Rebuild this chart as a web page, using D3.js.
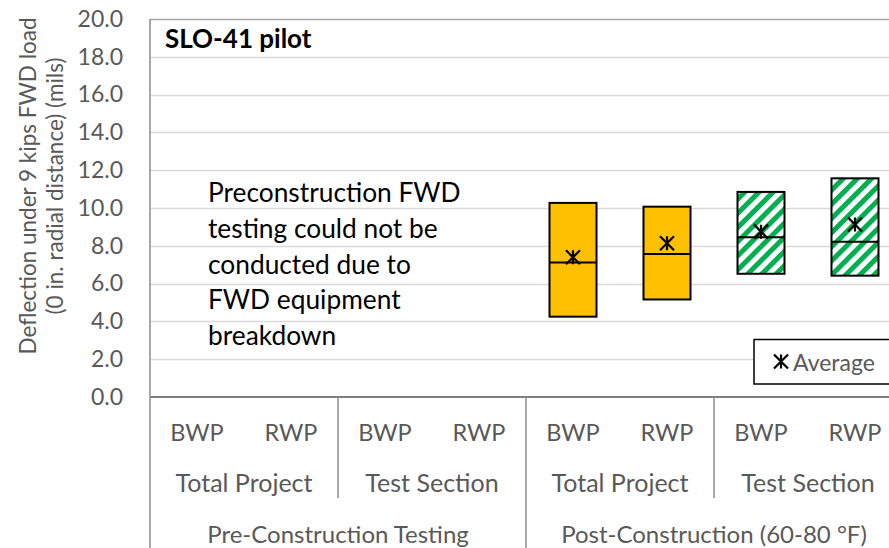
<!DOCTYPE html>
<html>
<head>
<meta charset="utf-8">
<script src="https://cdn.jsdelivr.net/npm/d3@7"></script>
<style>
  html, body { margin: 0; padding: 0; background: #fff; }
  svg { display: block; font-family: Lato, "Open Sans", sans-serif; }
</style>
</head>
<body>
<svg id="chart" width="889" height="548"></svg>
<script>
// ---------------- data ----------------
const subCategories = ["BWP", "RWP", "BWP", "RWP", "BWP", "RWP", "BWP", "RWP"];
const groupLabels = ["Total Project", "Test Section", "Total Project", "Test Section"];
const phaseLabels = ["Pre-Construction Testing", "Post-Construction (60-80 °F)"];
const boxMax    = [null, null, null, null, 10.27, 10.07, 10.85, 11.57];
const boxMedian = [null, null, null, null, 7.12, 7.57, 8.45, 8.22];
const boxMin    = [null, null, null, null, 4.25, 5.16, 6.52, 6.42];
const boxAverage = [null, null, null, null, 7.39, 8.13, 8.75, 9.13];
const yTicks = [0, 2, 4, 6, 8, 10, 12, 14, 16, 18, 20];
const chartTitle = "SLO-41 pilot";
const noteLines = ["Preconstruction FWD", "testing could not be", "conducted due to", "FWD equipment", "breakdown"];
const yTitleLines = ["Deflection under 9 kips FWD load", "(0 in. radial distance)  (mils)"];
const legendLabel = "Average";

// ---------------- layout ----------------
const svg = d3.select("#chart");
const plot = { left: 150, right: 902, top: 19, bottom: 397 };
const textGray = "#595959";
const axisGray = "#8c8c8c";

const x = d3.scaleBand()
  .domain(d3.range(subCategories.length))
  .range([plot.left, plot.right])
  .paddingInner(0.5)
  .paddingOuter(0.25);
const y = d3.scaleLinear().domain([0, 20]).range([plot.bottom, plot.top]);

// pattern
const defs = svg.append("defs");
const pat = defs.append("pattern")
  .attr("id", "hatch")
  .attr("patternUnits", "userSpaceOnUse")
  .attr("width", 10).attr("height", 10)
  .attr("patternTransform", "rotate(45)");
pat.append("rect").attr("width", 10).attr("height", 10).attr("fill", "#fff");
pat.append("rect").attr("width", 5).attr("height", 10).attr("fill", "#00B050");

// gridlines
const grid = svg.append("g");
grid.selectAll("line").data(yTicks.filter(d => d > 0)).join("line")
  .attr("x1", plot.left).attr("x2", plot.right)
  .attr("y1", d => Math.round(y(d)) + 0.5).attr("y2", d => Math.round(y(d)) + 0.5)
  .attr("stroke", d => d === 20 ? "#a6a6a6" : "#d9d9d9")
  .attr("stroke-width", 1.5);

// y axis
const yAxis = d3.axisLeft(y).tickValues(yTicks).tickFormat(d3.format(".1f")).tickSize(0).tickPadding(27);
const yg = svg.append("g").attr("transform", `translate(${plot.left},0)`).call(yAxis);
yg.select(".domain").remove();
yg.selectAll("text").attr("font-size", 23).attr("fill", textGray).attr("font-family", "Lato");

// y title
const yTitleX = [27, 54];
yTitleLines.forEach((t, i) => {
  svg.append("text")
    .attr("transform", `translate(${yTitleX[i]},186) rotate(-90)`)
    .attr("text-anchor", "middle")
    .attr("dominant-baseline", "central")
    .attr("font-size", 22.5)
    .attr("fill", textGray)
    .text(t);
});

// axis lines (category axis)
const ax = svg.append("g").attr("stroke", axisGray).attr("stroke-width", 1.5);
ax.append("line").attr("x1", plot.left).attr("x2", plot.right).attr("y1", plot.bottom).attr("y2", plot.bottom).attr("stroke", "#7f7f7f").attr("stroke-width", 2);
ax.append("line").attr("x1", plot.left).attr("x2", plot.left).attr("y1", plot.top).attr("y2", 548);
const step = x.step();
[1, 3].forEach(g => {
  const xx = plot.left + g * 2 * step;
  ax.append("line").attr("x1", xx).attr("x2", xx).attr("y1", plot.bottom).attr("y2", 498);
});
[1].forEach(p => {
  const xx = plot.left + p * 4 * step;
  ax.append("line").attr("x1", xx).attr("x2", xx).attr("y1", plot.bottom).attr("y2", 548);
});

// category labels
const catText = svg.append("g").attr("fill", textGray).attr("font-size", 24).attr("text-anchor", "middle");
subCategories.forEach((c, i) => {
  catText.append("text").attr("x", x(i) + x.bandwidth() / 2).attr("y", 432).attr("dominant-baseline", "central").attr("font-size", 23.5).text(c);
});
groupLabels.forEach((g, i) => {
  catText.append("text").attr("x", plot.left + (i * 2 + 1) * step).attr("y", 482).attr("dominant-baseline", "central").attr("font-size", 25).text(g);
});
phaseLabels.forEach((p, i) => {
  catText.append("text").attr("x", plot.left + (i * 4 + 2) * step).attr("y", 533).attr("dominant-baseline", "central").text(p);
});

// boxes
const idx = d3.range(subCategories.length).filter(i => boxMax[i] != null);
const boxes = svg.append("g");
boxes.selectAll("rect").data(idx).join("rect")
  .attr("x", i => x(i))
  .attr("y", i => y(boxMax[i]))
  .attr("width", x.bandwidth())
  .attr("height", i => y(boxMin[i]) - y(boxMax[i]))
  .attr("fill", i => Math.floor(i / 2) === 3 ? "url(#hatch)" : "#FFC000")
  .attr("stroke", "#000").attr("stroke-width", 2);
boxes.selectAll("line.med").data(idx).join("line").attr("class", "med")
  .attr("x1", i => x(i)).attr("x2", i => x(i) + x.bandwidth())
  .attr("y1", i => y(boxMedian[i])).attr("y2", i => y(boxMedian[i]))
  .attr("stroke", "#000").attr("stroke-width", 2);

function starMarker(g, cx, cy) {
  const s = 7;
  g.append("path")
    .attr("d", `M${cx - s},${cy - s}L${cx + s},${cy + s}M${cx - s},${cy + s}L${cx + s},${cy - s}M${cx},${cy - s}L${cx},${cy + s}`)
    .attr("stroke", "#000").attr("stroke-width", 2.2).attr("fill", "none");
}
idx.forEach(i => starMarker(boxes, x(i) + x.bandwidth() / 2, y(boxAverage[i])));

// title
svg.append("text").attr("x", 165).attr("y", 48).attr("font-size", 26).attr("font-weight", "bold").attr("fill", "#000").text(chartTitle);

// note
const note = svg.append("text").attr("font-size", 26.3).attr("fill", "#000");
noteLines.forEach((t, i) => {
  note.append("tspan").attr("x", 208).attr("y", 202 + i * 35.8).text(t);
});

// legend
const lg = svg.append("g");
lg.append("rect").attr("x", 754).attr("y", 339.5).attr("width", 160).attr("height", 44.5)
  .attr("fill", "#fff").attr("stroke", "#000").attr("stroke-width", 1.5);
starMarker(lg, 781, 361.5);
lg.append("text").attr("x", 793).attr("y", 362).attr("dominant-baseline", "central")
  .attr("font-size", 23).attr("fill", textGray).text(legendLabel);
</script>
</body>
</html>
